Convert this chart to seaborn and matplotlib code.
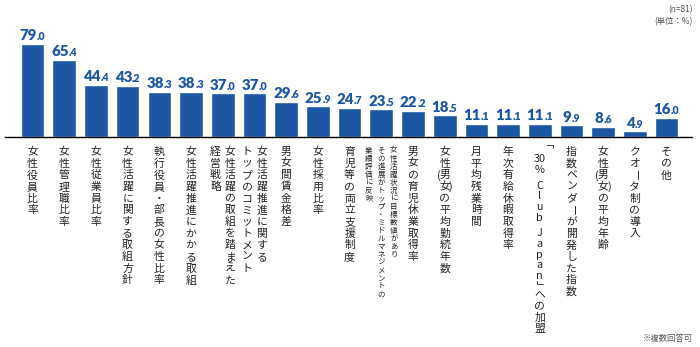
import matplotlib
matplotlib.use("Agg")
import matplotlib.pyplot as plt
import matplotlib.transforms as mtransforms
import seaborn as sns
import pandas as pd

# Survey items (columns of vertical text separated by "\n", read right to left)
categories = [
    "女性役員比率",
    "女性管理職比率",
    "女性従業員比率",
    "女性活躍に関する取組方針",
    "執行役員・部長の女性比率",
    "女性活躍推進にかかる取組",
    "女性活躍の取組を踏まえた\n経営戦略",
    "女性活躍推進に関する\nトップのコミットメント",
    "男女間賃金格差",
    "女性採用比率",
    "育児等の両立支援制度",
    "女性活躍状況に目標数値があり\nその進展がトップ・ミドルマネジメントの\n業績評価に反映",
    "男女の育児休業取得率",
    "女性(男女)の平均勤続年数",
    "月平均残業時間",
    "年次有給休暇取得率",
    "「30% Club Japan」への加盟",
    "指数ベンダーが開発した指数",
    "女性(男女)の平均年齢",
    "クオータ制の導入",
    "その他",
]
values = [79.0, 65.4, 44.4, 43.2, 38.3, 38.3, 37.0, 37.0, 29.6, 25.9, 24.7,
          23.5, 22.2, 18.5, 11.1, 11.1, 11.1, 9.9, 8.6, 4.9, 16.0]
small_label_items = [11]
note_top = ["(n=81)", "(単位：%)"]
note_bottom = "※複数回答可"

BLUE = "#1c57a4"
GRAY = "#555555"

sns.set_theme(style="white")
plt.rcParams["font.family"] = ["Noto Sans CJK JP", "DejaVu Sans"]

W, H, DPI = 700, 347, 100
fig = plt.figure(figsize=(W / DPI, H / DPI), dpi=DPI)
ax = fig.add_axes([5 / W, (H - 137) / H, 687 / W, 118.2 / H])

df = pd.DataFrame({"item": categories, "value": values})
sns.barplot(data=df, x="item", y="value", color=BLUE, saturation=1,
            width=0.745, ax=ax)

ax.set_xlim(-0.8675, 20.80)
ax.set_ylim(0, 100)
ax.set_xlabel("")
ax.set_ylabel("")
ax.set_xticks([])
ax.set_yticks([])
for side in ("top", "left", "right"):
    ax.spines[side].set_visible(False)
ax.spines["bottom"].set_color("black")
ax.spines["bottom"].set_linewidth(1.0)

# Value labels: larger integer part, smaller decimal part
renderer = fig.canvas.get_renderer()
for i, v in enumerate(values):
    ip, dp = f"{v:.1f}".split(".")
    t1 = ax.text(i, v, ip, ha="right", va="baseline", fontsize=10.8,
                 fontweight="heavy", color=BLUE, family="Lato")
    t2 = ax.text(i, v, "." + dp, ha="left", va="baseline", fontsize=7.6,
                 fontweight="heavy", color=BLUE, family="Lato")
    w1 = t1.get_window_extent(renderer).width
    w2 = t2.get_window_extent(renderer).width
    shift = (w1 - w2) / 2 * 72 / DPI
    for t in (t1, t2):
        t.set_transform(mtransforms.offset_copy(ax.transData, fig=fig,
                                                x=shift, y=2.6, units="points"))


def tokens(s):
    """Split a column of vertical text into drawable cells."""
    out = []
    i = 0
    while i < len(s):
        ch = s[i]
        if s.startswith("30", i):
            out.append(("30", 1.0, 0.5, 0.0, 0))
            i += 2
            continue
        if ch == "(":
            out.append(("(", 0.0, 0.5, -0.55, 0))
        elif ch == ")":
            out.append((")", 0.0, -0.5, 0.55, 0))
        elif ch in "「」":
            out.append((ch, 0.6, 0.3, 0.0, -90))
        elif ch == "ー":
            out.append((ch, 1.0, 0.5, 0.0, -90))
        elif ch == " ":
            out.append(("", 0.4, 0.0, 0.0, 0))
        elif ch.isascii():
            out.append((ch, 0.92, 0.46, 0.0, 0))
        else:
            out.append((ch, 1.0, 0.5, 0.0, 0))
        i += 1
    return out


def draw_vertical(xi, label, fs, pitch, gap, start):
    cols = label.split("\n")
    n = len(cols)
    for j, col in enumerate(cols):
        dx = ((n - 1) / 2 - j) * gap
        y = start
        for text, adv, cen, ddx, rot in tokens(col):
            if text:
                ax.annotate(text, xy=(xi, 0), xycoords="data",
                            xytext=(dx + ddx * fs, -(y + cen * pitch)),
                            textcoords="offset points", ha="center",
                            va="center", rotation=rot, fontsize=fs,
                            color="#222222", annotation_clip=False)
            y += adv * pitch


for i, lab in enumerate(categories):
    if i in small_label_items:
        draw_vertical(i, lab, fs=5.4, pitch=5.75, gap=9.0, start=7.0)
    else:
        draw_vertical(i, lab, fs=7.8, pitch=8.4, gap=10.8, start=6.6)

fig.text(693 / W, 1 - 10 / H, note_top[0], ha="right", va="center",
         fontsize=6, color=GRAY)
fig.text(693 / W, 1 - 22 / H, note_top[1], ha="right", va="center",
         fontsize=6, color=GRAY)
fig.text(693 / W, 1 - 339 / H, note_bottom, ha="right", va="center",
         fontsize=6, color=GRAY)

fig.savefig("out.png", dpi=DPI)
